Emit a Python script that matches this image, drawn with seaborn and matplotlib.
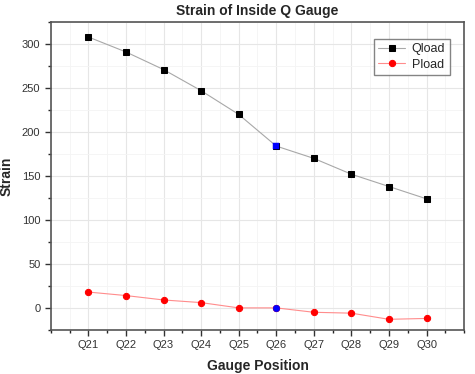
import matplotlib
matplotlib.use('Agg')
import seaborn as sns
import pandas as pd
import matplotlib.pyplot as plt
from matplotlib.ticker import MultipleLocator

# data
gauges = ["Q21", "Q22", "Q23", "Q24", "Q25", "Q26", "Q27", "Q28", "Q29", "Q30"]
qload = [308, 291, 271, 247, 220, 184, 170, 152, 138, 124]
pload = [18, 14, 9, 6, 0, 0, -5, -6, -13, -12]
highlight = "Q26"

sns.set_style("ticks")
plt.rcParams['font.family'] = ['Liberation Sans', 'DejaVu Sans']

pos = list(range(len(gauges)))
df = pd.DataFrame({"pos": pos, "gauge": gauges, "Qload": qload, "Pload": pload})

fig = plt.figure(figsize=(4.75, 3.74), dpi=100)
ax = fig.add_axes([0.107, 0.118, 0.870, 0.823])

# lines + markers
sns.lineplot(data=df, x="pos", y="Qload", ax=ax, color="#a8a8a8", lw=0.8,
             marker="s", markersize=3.8, markerfacecolor="black",
             markeredgecolor="black", label="Qload")
sns.lineplot(data=df, x="pos", y="Pload", ax=ax, color="#ff8c8c", lw=0.8,
             marker="o", markersize=4.5, markerfacecolor="red",
             markeredgecolor="red", label="Pload")

# highlighted gauge in blue
hl = df[df["gauge"] == highlight]
sns.scatterplot(x=hl["pos"], y=hl["Qload"], ax=ax, color="blue", marker="s",
                s=15, edgecolor="blue", zorder=5, legend=False)
sns.scatterplot(x=hl["pos"], y=hl["Pload"], ax=ax, color="blue", marker="o",
                s=22, edgecolor="blue", zorder=5, legend=False)

ax.set_xlim(-1, 10)
ax.set_ylim(-25, 325)
ax.set_xticks(pos)
ax.set_xticklabels(gauges)
ax.xaxis.set_minor_locator(MultipleLocator(0.5))
ax.yaxis.set_major_locator(MultipleLocator(50))
ax.yaxis.set_minor_locator(MultipleLocator(25))
ax.tick_params(axis='both', which='major', labelsize=8, colors="#333333",
               length=4, width=1, direction='out')
ax.tick_params(axis='both', which='minor', length=2.5, width=1, direction='out')
ax.grid(True, which='major', color="#e6e6e6", lw=0.8)
ax.grid(True, which='minor', color="#f4f4f4", lw=0.6)
ax.set_axisbelow(True)
for s in ax.spines.values():
    s.set_color("#555555")
    s.set_linewidth(1.2)

ax.set_title("Strain of Inside Q Gauge", fontsize=10, fontweight='bold', pad=5)
ax.set_xlabel("Gauge Position", fontsize=10, fontweight='bold', labelpad=6)
ax.set_ylabel("Strain", fontsize=10, fontweight='bold', labelpad=6)

leg = ax.legend(loc="upper right", bbox_to_anchor=(0.98, 0.965), fontsize=9,
                frameon=True, fancybox=False, edgecolor="#666666",
                handlelength=2.2, borderpad=0.35, labelspacing=0.25,
                handletextpad=0.5)
leg.get_frame().set_linewidth(1.0)

fig.savefig("out.png", dpi=100)
